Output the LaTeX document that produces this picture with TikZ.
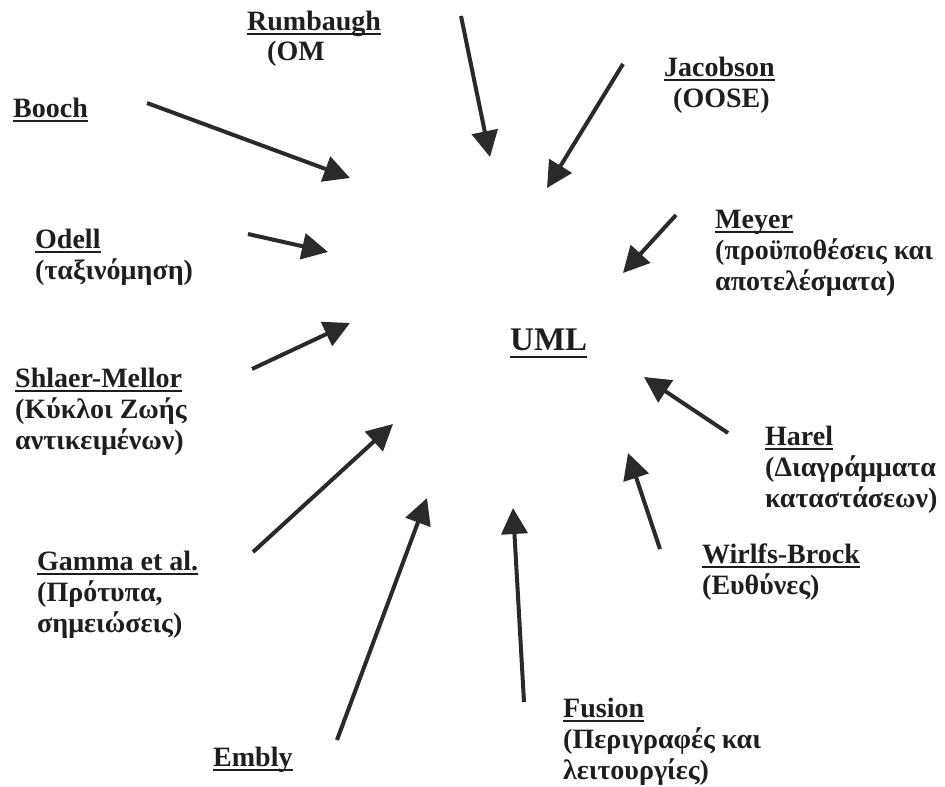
\documentclass[tikz,border=0pt]{standalone}
\usepackage{fontspec}
\setmainfont{Liberation Serif}
\usetikzlibrary{arrows.meta}
\definecolor{ink}{HTML}{1E1E1E}
\definecolor{arr}{HTML}{2A2A2A}
\newcommand\myul[2][-5pt]{\setbox0=\hbox{#2}\rlap{\rule[#1]{\wd0}{2pt}}\box0}
\newcommand\mylines[1]{\vtop{\baselineskip=31pt\lineskiplimit=-100pt\halign{##\hfil\cr#1\crcr}}}
\tikzset{
  lab/.style={anchor=base west, inner sep=0pt, text=ink, font=\bfseries\fontsize{28}{31}\selectfont},
  arw/.style={draw=arr, line width=4pt, -{Triangle[length=26pt,width=26pt]}}
}
\begin{document}
\begin{tikzpicture}[x=1pt,y=-1pt]
\fill[white] (0,0) rectangle (945,787);
\useasboundingbox (0,0) rectangle (945,787);

% labels
\node[lab] (rumbaugh) at (247,30) {\mylines{\myul{Rumbaugh}\cr\hspace{20pt}(OM}};
\node[lab] (booch) at (13,117) {\myul{Booch}};
\node[lab] (jacobson) at (664,76) {\mylines{\myul{Jacobson}\cr\hspace{9pt}(OOSE)}};
\node[lab] (odell) at (35,248) {\mylines{\myul{Odell}\cr(ταξινόμηση)}};
\node[lab] (meyer) at (715,228) {\mylines{\myul{Meyer}\cr(προϋποθέσεις και\cr αποτελέσματα)}};
\node[lab, font=\bfseries\fontsize{33}{36}\selectfont] (uml) at (510,350) {\myul[-8pt]{UML}};
\node[lab] (shlaer) at (15,387) {\mylines{\myul{Shlaer-Mellor}\cr(Κύκλοι Ζωής\cr αντικειμένων)}};
\node[lab] (harel) at (765,445) {\mylines{\myul{Harel}\cr(Διαγράμματα\cr καταστάσεων)}};
\node[lab] (wirfs) at (702,563) {\mylines{\myul{Wirlfs-Brock}\cr(Ευθύνες)}};
\node[lab] (gamma) at (37,570) {\mylines{\myul{Gamma et al.}\cr(Πρότυπα,\cr σημειώσεις)}};
\node[lab] (embly) at (213,766) {\myul{Embly}};
\node[lab] (fusion) at (563,717) {\mylines{\myul{Fusion}\cr(Περιγραφές και\cr λειτουργίες)}};

% arrow end points
\coordinate (boochT) at (147,103);   \coordinate (boochH) at (350,178);
\coordinate (rumT) at (461,16);      \coordinate (rumH) at (490,157);
\coordinate (jacT) at (623,64);      \coordinate (jacH) at (547,188);
\coordinate (meyT) at (676,215);     \coordinate (meyH) at (623,273);
\coordinate (odeT) at (248,234);     \coordinate (odeH) at (328,252);
\coordinate (shlT) at (252,369);     \coordinate (shlH) at (350,323);
\coordinate (harT) at (728,433);     \coordinate (harH) at (644,377);
\coordinate (gamT) at (253,552);     \coordinate (gamH) at (393,424);
\coordinate (wirT) at (660,549);     \coordinate (wirH) at (628,453);
\coordinate (embT) at (337,740);     \coordinate (embH) at (427,498);
\coordinate (fusT) at (524,702);     \coordinate (fusH) at (513,508);

% arrows
\draw[arw] (boochT) -- (boochH);
\draw[arw] (rumT) -- (rumH);
\draw[arw] (jacT) -- (jacH);
\draw[arw] (meyT) -- (meyH);
\draw[arw] (odeT) -- (odeH);
\draw[arw] (shlT) -- (shlH);
\draw[arw] (harT) -- (harH);
\draw[arw] (gamT) -- (gamH);
\draw[arw] (wirT) -- (wirH);
\draw[arw] (embT) -- (embH);
\draw[arw] (fusT) -- (fusH);
\end{tikzpicture}
\end{document}
